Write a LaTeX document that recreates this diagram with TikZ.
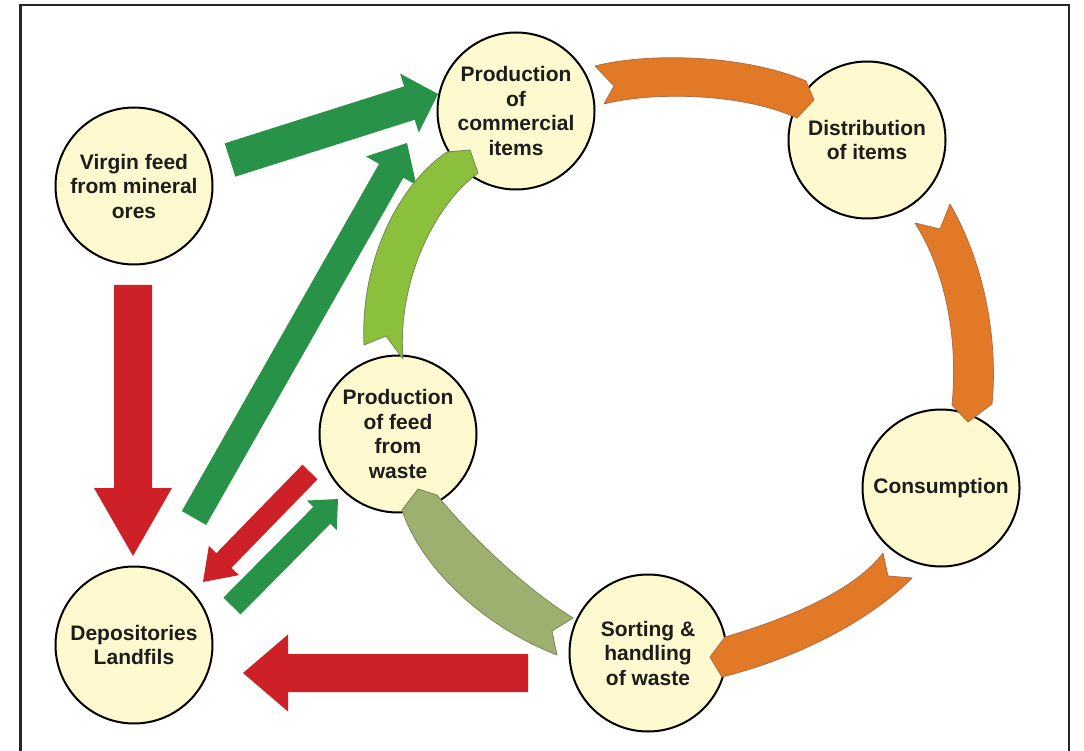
\documentclass[tikz,border=0pt]{standalone}
\usepackage{fontspec}
\setmainfont{Liberation Sans}
\usetikzlibrary{calc}
\definecolor{circfill}{RGB}{254,249,206}
\definecolor{dgreen}{RGB}{40,146,72}
\definecolor{dred}{RGB}{205,33,39}
\definecolor{orng}{RGB}{226,121,38}
\definecolor{orngd}{RGB}{176,110,70}
\definecolor{lgreen}{RGB}{139,192,60}
\definecolor{olive}{RGB}{157,176,112}
\definecolor{greend}{RGB}{120,135,85}
\definecolor{txt}{RGB}{30,28,28}
\newcommand{\blockarrow}[6]{%
  \coordinate (ba-h) at ($(#2)!#5!(#1)$);
  \fill[#6] ($(#1)!#3!90:(#2)$) -- ($(ba-h)!#3!90:(#2)$) -- ($(ba-h)!#4!90:(#2)$)
    -- (#2) -- ($(ba-h)!#4!-90:(#2)$) -- ($(ba-h)!#3!-90:(#2)$) -- ($(#1)!#3!-90:(#2)$) -- cycle;
}
\tikzset{
  circ/.style={circle, draw=black, line width=2pt, fill=circfill, minimum size=157pt,
    inner sep=0pt, align=center, text=txt, font=\fontsize{21}{24.5}\selectfont\bfseries},
  ribbon/.style={line width=0.8pt, line join=round},
  frame/.style={line width=2.5pt, draw=black!85}
}
\begin{document}
\begin{tikzpicture}[x=1pt, y=-1pt]
\useasboundingbox (0,0) rectangle (1084,751);
\fill[white] (0,0) rectangle (1084,751);
\draw[frame] (20.5,751) -- (20.5,5) -- (1069,5) -- (1069,751);

% circles
\node[circ] (virgin) at (134,186) {Virgin feed\\from mineral\\ores};
\node[circ] (prod) at (516,111) {Production\\of\\commercial\\items};
\node[circ] (dist) at (867,140) {Distribution\\of items};
\node[circ] (cons) at (941,488) {Consumption};
\node[circ] (sort) at (648,653) {Sorting \&\\handling\\of waste};
\node[circ] (feed) at (398,434) {Production\\of feed\\from\\waste};
\node[circ] (depo) at (134,645) {Depositories\\Landfils};

% straight block arrows
\coordinate (g1t) at (230,160); \coordinate (g1h) at (438,94);
\blockarrow{g1t}{g1h}{17.5pt}{31pt}{30pt}{dgreen}
\coordinate (g2t) at (194,518); \coordinate (g2h) at (407,143);
\blockarrow{g2t}{g2h}{14pt}{29pt}{32pt}{dgreen}
\coordinate (r1t) at (133,285); \coordinate (r1h) at (133,556);
\blockarrow{r1t}{r1h}{19pt}{39pt}{68pt}{dred}
\coordinate (r2t) at (310,472); \coordinate (r2h) at (203,582);
\blockarrow{r2t}{r2h}{10.5pt}{21pt}{30pt}{dred}
\coordinate (g3t) at (232,606); \coordinate (g3h) at (338,499);
\blockarrow{g3t}{g3h}{12pt}{21pt}{23pt}{dgreen}
\coordinate (r3t) at (528,673); \coordinate (r3h) at (243,673);
\blockarrow{r3t}{r3h}{19pt}{38.5pt}{45pt}{dred}

% curved ribbons of the cycle
\filldraw[ribbon, fill=orng, draw=orngd] (595,66) -- (614,86) -- (604,104)
  .. controls (650,92) and (740,92) .. (797,118) -- (814,100) -- (806,81)
  .. controls (745,55) and (650,52) .. cycle;
\filldraw[ribbon, fill=orng, draw=orngd] (950,204) -- (940,229) -- (915,223)
  .. controls (948,275) and (958,345) .. (952,405) -- (968,422) -- (992,404)
  .. controls (998,340) and (985,265) .. cycle;
\filldraw[ribbon, fill=orng, draw=orngd] (912,578) -- (888,576) -- (883,553)
  .. controls (855,590) and (790,618) .. (725,637) -- (710,657) -- (722,677)
  .. controls (790,660) and (865,625) .. cycle;
\filldraw[ribbon, fill=olive, draw=greend] (573,618) -- (552,631) -- (557,655)
  .. controls (480,625) and (420,565) .. (402,510) -- (418,489) -- (437,495)
  .. controls (465,530) and (520,585) .. cycle;
\filldraw[ribbon, fill=lgreen, draw=greend] (364,345) -- (386,336) -- (403,359)
  .. controls (397,285) and (432,207) .. (478,173) -- (470,150) -- (447,152)
  .. controls (398,185) and (360,262) .. cycle;
\end{tikzpicture}
\end{document}
